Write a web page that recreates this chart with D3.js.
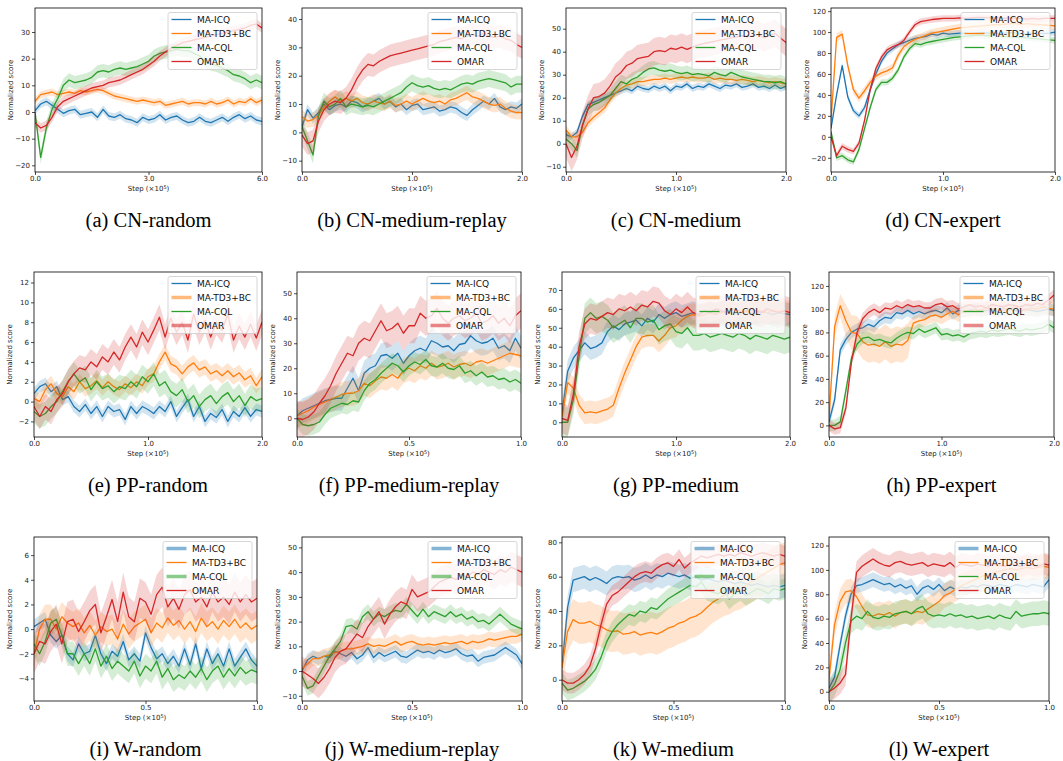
<!DOCTYPE html>
<html>
<head>
<meta charset="utf-8">
<script src="https://cdn.jsdelivr.net/npm/d3@7"></script>
<style>
  body { margin: 0; background: #fff; }
  svg { display: block; }
</style>
</head>
<body>
<svg id="chart" width="1063" height="761"></svg>
<script>
// ---- data (41 samples per curve, evenly spaced over the x range) ----
const captions = ["(a) CN-random", "(b) CN-medium-replay", "(c) CN-medium", "(d) CN-expert",
  "(e) PP-random", "(f) PP-medium-replay", "(g) PP-medium", "(h) PP-expert",
  "(i) W-random", "(j) W-medium-replay", "(k) W-medium", "(l) W-expert"];
const methods = ["MA-ICQ", "MA-TD3+BC", "MA-CQL", "OMAR"];
const xMax = [6, 2, 2, 2, 2, 1, 2, 2, 1, 1, 1, 1];
const xTicks = [[0, 3, 6], [0, 1, 2], [0, 1, 2], [0, 1, 2], [0, 1, 2], [0, 0.5, 1],
  [0, 1, 2], [0, 1, 2], [0, 0.5, 1], [0, 0.5, 1], [0, 0.5, 1], [0, 0.5, 1]];
const yTicks = [[-20, -10, 0, 10, 20, 30], [-10, 0, 10, 20, 30, 40], [-10, 0, 10, 20, 30, 40, 50],
  [-20, 0, 20, 40, 60, 80, 100, 120], [-2, 0, 2, 4, 6, 8, 10, 12], [0, 10, 20, 30, 40, 50],
  [0, 10, 20, 30, 40, 50, 60, 70], [0, 20, 40, 60, 80, 100, 120], [-4, -2, 0, 2, 4, 6],
  [-10, 0, 10, 20, 30, 40, 50], [0, 20, 40, 60, 80], [0, 20, 40, 60, 80, 100, 120]];
const yLimits = [[-22.5, 39], [-14, 43.9], [-12.3, 59], [-33.6, 123], [-3.57, 13.06], [-7.5, 58.5],
  [-7.8, 79.5], [-10, 132], [-5.83, 7.47], [-12.1, 54.2], [-12.4, 83.1], [-7.6, 127]];

// (a) CN-random
const aIcq = [0.5, 3, 4, 2.5, 1, -0.5, 0.5, 1, -1, -0.5, 0, -2, 1, -1.5, -2, -1, -2.5, -3, -4, -2, -3, -2.5, -1, -3, -2, -1.5, -3, -4, -3.5, -2, -3.5, -4, -3, -2, -3.5, -2, -1, -2.5, -1.5, -3, -3.5];
const aTd3 = [4, 6.5, 7, 7.5, 6.5, 7, 7.5, 7, 8, 7.5, 8, 8.5, 8, 7, 6, 5.5, 5, 4.5, 4, 4.5, 4, 3.5, 4, 2.5, 3, 3.5, 4, 3, 3.5, 3.5, 3, 4, 3, 3.5, 4.5, 3, 4, 3.5, 5, 3.5, 4.5];
const aCql = [0, -17, -6, 1, 5, 10, 12, 11, 11.5, 12, 13, 15, 15.5, 15, 16, 16.5, 16, 16.5, 17, 18, 19, 21, 22, 22.5, 23, 23.5, 23, 23, 22, 21, 19, 18, 17.5, 16.5, 15.5, 14, 13.5, 12.5, 11, 12, 11];
const aOmar = [-4, -6, -5, -2, 2, 4, 5, 6, 7, 8, 9, 9.5, 10, 11, 11.5, 12, 13, 14, 15, 16, 17.5, 19, 21, 22.5, 24, 25, 26, 26.5, 27, 27.5, 28, 28.5, 29, 29.5, 30, 30.5, 31, 31.5, 32.5, 33, 31.5];
const aSpread = [1.5, 1.3, 2.5, 1.8];

// (b) CN-medium-replay
const bIcq = [2, 8, 5, 7, 10, 8, 9.5, 10, 9, 11, 10.5, 9, 10, 11, 12, 10, 11, 9, 10, 8, 9.5, 10, 8, 8.5, 9, 7.5, 8, 9, 8.5, 7, 6, 8, 9.5, 11, 10, 12, 9, 8, 9, 8.5, 10];
const bTd3 = [5.5, 4, 4.5, 6, 9, 11, 12.5, 11, 12, 11, 12, 10.5, 10, 11, 10.5, 10, 11, 9.5, 10, 11, 10, 11, 12, 11, 10.5, 11, 10, 11.5, 12, 13, 14, 12.5, 12, 11, 10, 9.5, 10, 8.5, 7.5, 7, 7];
const bCql = [2, -3, -8, 6, 11, 9, 10, 12, 9, 10, 9.5, 9, 9.5, 9, 10, 11, 12, 13, 14, 16, 17.5, 16.5, 16, 16.5, 15.5, 15, 15.5, 15, 16, 17, 17.5, 17, 18, 18.5, 19, 18.5, 18, 17.5, 16, 17, 17];
const bOmar = [-1, -4, -3, 4, 8, 10, 11, 10.5, 12, 15, 19, 22, 24, 23.5, 25, 26, 27, 27.5, 28, 28.5, 29, 29.5, 30, 30.5, 31, 32, 32.5, 33, 33.5, 33, 34, 34.5, 34, 35, 34, 33.5, 34, 33, 32.5, 31, 30];
const bSpread = [2, 2.5, 3, 4];

// (c) CN-medium
const cIcq = [4, 3, 5, 12, 17, 18, 19, 20, 21, 22, 23, 24, 23, 25, 24, 23.5, 25, 24, 25, 23, 25, 24.5, 26, 24, 25, 24.5, 26, 25, 24, 25.5, 25, 26, 24.5, 25, 26, 24.5, 25, 24, 25.5, 24, 25];
const cTd3 = [6, 3, 3, 5, 9, 11.5, 13.5, 15.5, 19, 22, 24, 25.5, 26, 27, 27, 27.5, 28, 28, 28.5, 28, 28.5, 29, 28.5, 29, 28.5, 28.5, 29, 28, 28.5, 28, 28, 27.5, 28, 27.5, 27, 27.5, 27, 26.5, 27, 26.5, 26];
const cCql = [2, 0, -3, 8, 15, 17, 18, 19.5, 21, 24, 27, 26, 28, 29, 31, 32.5, 33, 32, 31.5, 32, 31, 30.5, 31, 30, 30.5, 30, 29.5, 31, 30, 29.5, 31, 30, 29, 28.5, 28, 27.5, 27, 27, 26.5, 27, 26];
const cOmar = [0, -6, -1, 8, 15, 20, 20.5, 22, 25, 29, 31, 34, 35, 37, 37.5, 38, 40, 40.5, 40, 41.5, 41, 42, 41, 42, 43, 43.5, 44, 44.5, 45, 45.5, 46, 46.5, 47, 46.5, 47, 47.5, 46, 47, 48, 46, 44];
const cSpread = [1.5, 2, 3, 6];

// (d) CN-expert
const dIcq = [8, 40, 68, 38, 25, 20, 28, 45, 60, 72, 80, 84, 88, 90, 92, 94, 95, 96, 98, 97, 99, 98, 98.5, 99, 99, 98.5, 99, 99.5, 99, 99, 98.5, 99, 99.5, 99, 98.5, 98, 99, 99, 98.5, 99, 100];
const dTd3 = [15, 95, 98, 68, 45, 37, 44, 52, 58, 61, 63, 66, 78, 86, 90, 93, 95, 97, 99, 100, 101, 102, 103, 104, 104.5, 105, 105.5, 106, 106.5, 107, 107, 107.5, 108, 108, 107.5, 108, 107.5, 107, 107, 106.5, 106];
const dCql = [5, -20, -18, -22, -24, -12, 8, 28, 45, 52, 52, 56, 64, 76, 84, 89, 88, 90, 91, 92, 93, 94, 95, 95.5, 96, 96.5, 97, 97, 96.5, 97, 96, 96, 95.5, 95, 95, 94.5, 94, 93.5, 93, 92.5, 92];
const dOmar = [0, -18, -9, -12, -14, -6, 16, 45, 65, 76, 83, 86, 88, 92, 100, 107, 110, 111, 112, 112.5, 113, 113, 113, 113.5, 113, 113.5, 114, 114, 113.5, 114, 113.5, 113, 113.5, 113, 113, 112.5, 113, 112.5, 113, 113, 113];
const dSpread = [3, 4, 3, 3];

// (e) PP-random
const eIcq = [0.8, 1.5, 1.8, 1, 1.5, 0.2, 0.5, -0.5, -1, -0.3, -1.2, -0.5, -1.5, -0.5, -1, -0.8, -1.8, -0.5, -1.2, -0.5, -0.8, -1.2, -0.5, -1, 0, -1.5, -0.6, 0.2, -1.5, -0.5, -2, -1.2, -1.6, -0.8, -2, -1, -1.5, -0.6, -1.5, -0.8, -1];
const eTd3 = [0.3, 0, 1.2, 1.8, 0.8, 0.5, 1.5, 1, 2, 1.3, 1.6, 2.1, 1.4, 2, 1.5, 1.2, 1.8, 1.4, 2, 1.6, 2.5, 2.8, 4, 5, 3.8, 3.5, 2.8, 3.5, 3.9, 3.2, 3.5, 2.8, 3.1, 2.6, 3.1, 2.5, 2.9, 2.2, 2.6, 1.6, 2.5];
const eCql = [-1, -1.5, -1.2, -0.5, 0, 1, 2, 2.8, 2, 2.4, 1.2, 2, 1.3, 1.6, 1, 1.5, 1.3, 2, 1.5, 2.5, 2, 2.8, 1.6, 2, 1, 0.6, 1.2, 0, 0.6, -0.5, 0.2, 0.6, -0.2, 0.5, 0.9, 0, 0.6, -0.4, 0.5, 0.1, 0.3];
const eOmar = [-0.5, -1.5, -0.5, -1, 0.2, 0.8, 2, 2.8, 3.4, 3.2, 4, 3.5, 4.5, 4, 5, 4.2, 5.5, 6.5, 5.5, 7, 6, 7.2, 8.5, 6.5, 8.4, 7, 8, 6.2, 8.8, 7, 8.2, 6.5, 8, 7.2, 8.8, 6.2, 7.6, 6.5, 7.8, 6.4, 8];
const eSpread = [0.6, 0.8, 1.2, 1.3];

// (f) PP-medium-replay
const fIcq = [1, 3, 4, 5, 6, 7, 7.5, 8, 8, 12, 16, 11, 18, 20, 21, 25, 25.5, 24, 26, 22, 25, 27, 28, 27, 31, 30, 28.5, 29, 27, 29.5, 30, 33, 31, 30, 30.5, 32, 28, 29, 27, 32, 28];
const fTd3 = [1, 2, 3, 4.5, 5.5, 6.5, 7.5, 8.5, 9.5, 10, 10, 11, 14, 13, 15, 16.5, 16, 17.5, 16, 19, 20, 19, 21, 20, 22, 20.5, 21, 22, 20.5, 21.5, 22, 21, 22.5, 23, 22, 23, 24, 25, 26, 25.5, 25];
const fCql = [0, -2.5, -3, -2.5, -1.5, 1.5, 4, 5, 6, 5.5, 7, 6.5, 11, 14, 15.5, 18, 20, 22, 21, 18.5, 21, 22.5, 21.5, 23.5, 21, 20.5, 22, 20, 19.5, 21, 18, 19, 17, 18.5, 16.5, 17, 15.5, 16, 14.5, 15.5, 14];
const fOmar = [0, -0.5, 0.5, 2.5, 6, 9, 13, 18, 22, 26, 25, 30, 32, 31, 35, 39, 35, 36, 38, 34, 37, 37, 42, 40, 41, 44, 40, 38, 40, 41, 39, 40, 42, 38, 39, 41, 38, 40, 37, 41, 43];
const fSpread = [5, 5, 4, 7];

// (g) PP-medium
const gIcq = [5, 27, 34, 38, 42, 39, 40, 42, 48, 51, 49, 52, 53, 54, 51, 55, 53, 57, 55, 57, 58, 56, 57, 58, 56.5, 57, 58, 57, 58.5, 57.5, 58, 57, 59, 58, 57.5, 58.5, 58, 57, 58, 57.5, 57];
const gTd3 = [3, 21, 18, 9, 5, 5.5, 5, 6, 7, 9, 18, 26, 33, 40, 45, 46, 46, 43, 46, 50, 51, 54, 56, 57, 56, 57, 58, 57.5, 58, 58.5, 57.5, 58, 59, 58, 58.5, 59, 58, 59, 58.5, 59, 58];
const gCql = [0, 0, 12, 35, 55, 58, 55, 56, 54, 50, 52, 54, 50, 55, 55, 53, 54, 49, 51, 52, 48, 47, 50, 46, 46, 47, 45, 46, 47, 46, 45, 47, 46, 44, 46, 45, 44, 46, 45, 44, 45];
const gOmar = [2, 1, 15, 40, 52, 55, 54, 56, 58, 57, 60, 59, 61, 59, 62, 61, 64, 63, 59, 57, 60, 58, 61, 58, 57, 59, 58, 60, 59, 58, 60, 59, 58, 60, 59, 58, 60, 59, 58, 59, 58];
const gSpread = [6, 6, 8, 8];

// (h) PP-expert
const hIcq = [3, 22, 65, 74, 80, 83, 84, 87, 85, 90, 93, 92, 97, 96, 99, 96, 98, 96, 98, 99, 97, 101, 96, 99, 98, 99, 100, 98, 99, 100, 98, 99, 100, 99, 98, 100, 99, 98, 99, 100, 99];
const hTd3 = [5, 85, 103, 90, 80, 79, 72, 69, 70, 68, 72, 68, 70, 69, 73, 88, 90, 91, 94, 95, 93, 96, 98, 95, 99, 98, 100, 99, 101, 100, 99, 101, 100, 102, 100, 99, 101, 100, 102, 101, 100];
const hCql = [0, 0, 3, 30, 58, 70, 75, 76, 73, 74, 72, 71, 75, 78, 80, 79, 83, 80, 82, 84, 78, 79, 77, 78, 76, 79, 80, 81, 80, 82, 81, 82, 83, 82, 81, 83, 82, 83, 84, 87, 84];
const hOmar = [0, -3, -2, 15, 55, 80, 92, 97, 100, 97, 101, 100, 103, 101, 104, 102, 103, 101, 101, 104, 105, 102, 103, 100, 102, 104, 102, 103, 101, 104, 103, 102, 104, 103, 102, 104, 103, 105, 104, 108, 112];
const hTd3Spread = [6, 9, 10, 14, 15, 15, 15, 15, 15, 15, 15, 15, 15, 15, 15, 6, 6, 6, 6, 6, 6, 6, 6, 6, 6, 6, 6, 6, 6, 6, 6, 6, 6, 6, 6, 6, 6, 6, 6, 6, 6];
const hSpread = [5, hTd3Spread, 5, 5];

// (i) W-random
const iIcq = [0.2, 0.5, 0.8, -0.5, -1, -0.5, -2, -2.5, -1.2, -2, -1.8, -0.5, -2, -2.8, -1.8, -2.2, -1, -2.5, -2, -2.6, -0.3, -1.5, -2.4, -2, -2.8, -2.2, -3, -1.6, -2.9, -1.2, -3.2, -1.6, -2.8, -2, -3, -1.6, -3, -2.3, -1.6, -2.5, -3];
const iTd3 = [-2, 0, 0.8, 0.8, 0, 1, 0.5, 0.2, 0.5, -0.3, 0.3, -0.5, 0.2, -0.2, 0, -0.8, 0.4, -0.4, 0.2, 0.5, 0.8, -0.3, 0.5, 0.1, 0.9, 0.3, 0.7, 0, 0.6, -0.2, 0.9, 0.2, 0.6, 0, 0.7, 0.2, 0.8, 0.1, 0.5, 0, 0.3];
const iCql = [-1.2, -2, -1, 0.5, 0.8, -0.5, -2, -2, -2.8, -2, -2.8, -1.6, -3, -2.2, -3.2, -2.6, -3, -3.4, -2.6, -3.8, -3, -3.4, -2.6, -3.9, -3.2, -4.1, -3.7, -4, -3.4, -3.9, -3.2, -4.1, -3.4, -3, -3.9, -3.2, -3.8, -3.1, -3.6, -3.3, -3.5];
const iOmar = [-2, -1, -1.2, -0.2, 0.4, -1.2, 0.6, 0.8, -0.2, 0.6, 1.5, 2, -0.3, 1, 2.4, 0.6, 3, 1, 0.6, 2.5, 2.2, 1.2, 2.8, 3.4, 1.8, 2.5, 1.6, 2.8, 3.2, 2.2, 2.6, 1.8, 3, 2.2, 2.6, 2, 3, 2.2, 2.8, 2.2, 2.5];
const iSpread = [0.6, 1.2, 1, 1.6];

// (j) W-medium-replay
const jIcq = [0, 4.5, 6, 5, 6, 5.5, 8, 7, 6, 7.5, 5, 6.5, 9.5, 5.5, 7.5, 6, 7, 8, 6, 5.5, 7, 8.5, 7.5, 8, 7, 8.5, 7.5, 8, 9, 7, 6, 6.5, 4, 5.5, 6, 6.5, 8, 9.5, 8, 6.5, 3];
const jTd3 = [1, 3, 5, 5, 6, 6.5, 7.5, 8, 9, 9, 9.5, 10, 11, 10, 10.5, 10, 11, 12, 10.5, 11.5, 12, 11, 10.5, 11, 10.5, 11, 11.5, 11, 11.5, 12, 11, 12, 11.5, 12, 13, 12.5, 13, 13.5, 14, 14, 15];
const jCql = [-2, -7, -6, -2, 2, 6, 9, 12, 18, 18.5, 17, 22, 24, 21, 23, 22, 23.5, 24.5, 24, 27, 24.5, 22, 25, 22, 24, 23, 22, 24, 22, 23, 21, 22, 20, 20.5, 19, 21, 23, 21, 19, 18, 17];
const jOmar = [0, -1.5, -3, -5, -2.5, 1, 5.5, 8, 9, 12, 15, 13.5, 18, 21, 24, 19, 23, 26, 28, 27, 33, 30, 31, 32, 34, 36, 37, 38, 37, 39, 38, 40, 39, 41, 40, 39, 41, 40, 42, 41, 40];
const jSpread = [2.5, 3, 3, 6];

// (k) W-medium
const kIcq = [7, 42, 58, 59, 60, 58, 59.5, 58, 56, 59, 60, 59.5, 60, 58, 59, 61, 59, 61, 60, 62, 61, 60, 61, 59, 60, 58, 59, 58, 57, 58, 57, 56, 57, 56, 55, 56, 55, 54, 55, 54, 55];
const kTd3 = [7, 28, 35, 33, 33, 34, 32, 31, 29, 28, 28.5, 26.5, 27, 28, 26, 27, 27.5, 26.5, 28, 30, 31, 33, 34, 36, 37, 39, 42, 45, 47, 49, 50, 52, 53, 55, 57, 59, 61, 63, 65, 67, 68];
const kCql = [-2, -6, -5, -3, -1, 2, 6, 13, 22, 28, 32, 35, 38, 37, 40, 39, 42, 41, 44, 47, 49, 51, 53, 55, 54, 57, 52, 51, 50, 52, 47, 50, 52, 49, 51, 53, 52, 50, 53, 52, 53];
const kOmar = [0, -2, -2, 0, 3, 8, 18, 32, 44, 49, 51, 54, 57, 60, 62, 63, 62, 65, 67, 68, 66, 70, 65, 68, 70, 72, 71, 72, 73, 72, 73, 72, 74, 73, 72, 73, 74, 73, 72, 73, 72];
const kSpread = [7, 12, 6, 6];

// (l) W-expert
const lIcq = [3, 12, 38, 62, 80, 87, 88, 90, 92, 90, 88, 89, 86, 88, 85, 87, 80, 85, 87, 84, 88, 83, 86, 84, 86, 85, 87, 86, 88, 87, 86, 88, 87, 86, 88, 87, 86, 88, 87, 86, 92];
const lTd3 = [10, 55, 74, 82, 83, 78, 70, 63, 62, 64, 63, 65, 62, 65, 66, 64, 66, 65, 68, 71, 74, 79, 81, 84, 87, 89, 91, 93, 95, 96, 98, 99, 100, 101, 100, 101, 102, 101, 102, 103, 102];
const lCql = [0, 6, 18, 40, 58, 62, 60, 66, 61, 60, 62, 61, 64, 65, 66, 64, 68, 70, 64, 62, 63, 62, 64, 62, 63, 61, 62, 60, 61, 62, 60, 63, 61, 60, 66, 62, 63, 64, 64, 65, 64];
const lOmar = [0, 3, 7, 14, 60, 98, 103, 106, 109, 106, 104, 103, 106, 107, 105, 104, 105, 106, 103, 105, 104, 103, 106, 102, 105, 104, 103, 105, 104, 103, 105, 104, 103, 105, 104, 103, 105, 104, 103, 105, 104];
const lSpread = [6, 10, 10, 9];

const panelSeries = [
  [aIcq, aTd3, aCql, aOmar], [bIcq, bTd3, bCql, bOmar], [cIcq, cTd3, cCql, cOmar], [dIcq, dTd3, dCql, dOmar],
  [eIcq, eTd3, eCql, eOmar], [fIcq, fTd3, fCql, fOmar], [gIcq, gTd3, gCql, gOmar], [hIcq, hTd3, hCql, hOmar],
  [iIcq, iTd3, iCql, iOmar], [jIcq, jTd3, jCql, jOmar], [kIcq, kTd3, kCql, kOmar], [lIcq, lTd3, lCql, lOmar]
];
const panelSpreads = [aSpread, bSpread, cSpread, dSpread, eSpread, fSpread, gSpread, hSpread, iSpread, jSpread, kSpread, lSpread];

// ---- layout and style ----
const colors = ["#1f77b4", "#ff7f0e", "#2ca02c", "#d62728"];
// plot-area boxes in page pixels
const boxes = [
  {l: 35, r: 262, t: 8, b: 172}, {l: 302, r: 522, t: 8, b: 172}, {l: 566, r: 786, t: 8, b: 172}, {l: 831, r: 1055, t: 8, b: 172},
  {l: 34, r: 262, t: 272, b: 437}, {l: 297, r: 521, t: 272, b: 437}, {l: 562, r: 790, t: 272, b: 437}, {l: 829, r: 1054, t: 272, b: 437},
  {l: 34, r: 257, t: 537, b: 701}, {l: 302, r: 522, t: 537, b: 701}, {l: 562, r: 785, t: 537, b: 701}, {l: 829, r: 1049, t: 537, b: 701}
];
// legend entries whose handle is drawn as a wide pale band
const wideHandles = [[], [], [], [], [1, 3], [1, 3], [1, 3], [1, 3], [0, 2], [0, 2], [0, 2], [0]];

const svg = d3.select("#chart");
const font = "DejaVu Sans, sans-serif";
const fmtY = d => (d < 0 ? "\u2212" + Math.abs(d) : String(d));

panelSeries.forEach((series, p) => {
  const box = boxes[p];
  const x = d3.scaleLinear().domain([0, xMax[p]]).range([box.l, box.r]);
  const y = d3.scaleLinear().domain(yLimits[p]).range([box.b, box.t]);

  svg.append("clipPath").attr("id", "clip" + p)
    .append("rect").attr("x", box.l).attr("y", box.t)
    .attr("width", box.r - box.l).attr("height", box.b - box.t);

  const plot = svg.append("g").attr("clip-path", `url(#clip${p})`);

  series.forEach((vals, k) => {
    const n = vals.length;
    const spread = panelSpreads[p][k];
    const sd = i => (Array.isArray(spread) ? spread[i] : spread);
    const xi = i => x(i / (n - 1) * xMax[p]);

    const line = d3.line().x((d, i) => xi(i)).y(d => y(d));
    const area = d3.area().x((d, i) => xi(i))
      .y0((d, i) => y(d - sd(i))).y1((d, i) => y(d + sd(i)));

    plot.append("path").datum(vals).attr("d", line)
      .attr("fill", "none").attr("stroke", colors[k]).attr("stroke-width", 1.3)
      .attr("stroke-linejoin", "round");
    plot.append("path").datum(vals).attr("d", area)
      .attr("fill", colors[k]).attr("fill-opacity", 0.2);
  });

  // axes
  const xAxis = svg.append("g").attr("transform", `translate(0,${box.b})`)
    .call(d3.axisBottom(x).tickValues(xTicks[p]).tickFormat(d3.format(".1f"))
      .tickSize(3).tickPadding(1.5).tickSizeOuter(0));
  const yAxis = svg.append("g").attr("transform", `translate(${box.l},0)`)
    .call(d3.axisLeft(y).tickValues(yTicks[p]).tickFormat(fmtY)
      .tickSize(3).tickPadding(2).tickSizeOuter(0));
  [xAxis, yAxis].forEach(ax => {
    ax.select(".domain").remove();
    ax.selectAll("line").attr("stroke", "#000").attr("stroke-width", 0.7);
    ax.selectAll("text").attr("font-family", font).attr("font-size", 7).attr("fill", "#222");
  });

  svg.append("rect").attr("x", box.l).attr("y", box.t)
    .attr("width", box.r - box.l).attr("height", box.b - box.t)
    .attr("fill", "none").attr("stroke", "#000").attr("stroke-width", 0.8);

  // axis labels
  const xl = svg.append("text").attr("x", (box.l + box.r) / 2).attr("y", box.b + 19)
    .attr("text-anchor", "middle").attr("font-family", font).attr("font-size", 7).attr("fill", "#222");
  xl.append("tspan").text("Step (\u00d710");
  xl.append("tspan").attr("font-size", 5).attr("dy", -2.5).text("5");
  xl.append("tspan").attr("dy", 2.5).text(")");
  svg.append("text")
    .attr("transform", `translate(${box.l - 22},${(box.t + box.b) / 2}) rotate(-90)`)
    .attr("text-anchor", "middle").attr("font-family", font).attr("font-size", 7).attr("fill", "#222")
    .text("Normalized score");

  // legend
  const rowH = 14;
  const lw = 89, lh = 57;
  const lx = box.r - 5 - lw, ly = box.t + 4.5;
  const leg = svg.append("g").attr("transform", `translate(${lx},${ly})`);
  leg.append("rect").attr("width", lw).attr("height", lh).attr("rx", 2)
    .attr("fill", "#fff").attr("fill-opacity", 0.8)
    .attr("stroke", "#ccc").attr("stroke-width", 0.8);
  methods.forEach((m, k) => {
    const yy = 7 + k * rowH;
    const wide = wideHandles[p].includes(k);
    leg.append("line").attr("x1", 3.5).attr("x2", 23.5).attr("y1", yy).attr("y2", yy)
      .attr("stroke", colors[k])
      .attr("stroke-width", wide ? 3.5 : 1.3)
      .attr("stroke-opacity", wide ? 0.55 : 1);
    leg.append("text").attr("x", 29).attr("y", yy).attr("dy", "0.35em")
      .attr("font-family", font).attr("font-size", 9).attr("fill", "#111").text(m);
  });

  // caption
  svg.append("text").attr("x", (box.l + box.r) / 2).attr("y", box.b + 55)
    .attr("text-anchor", "middle").attr("font-family", "Liberation Serif, Times New Roman, serif")
    .attr("font-size", 20.5).attr("fill", "#000").text(captions[p]);
});
</script>
</body>
</html>
